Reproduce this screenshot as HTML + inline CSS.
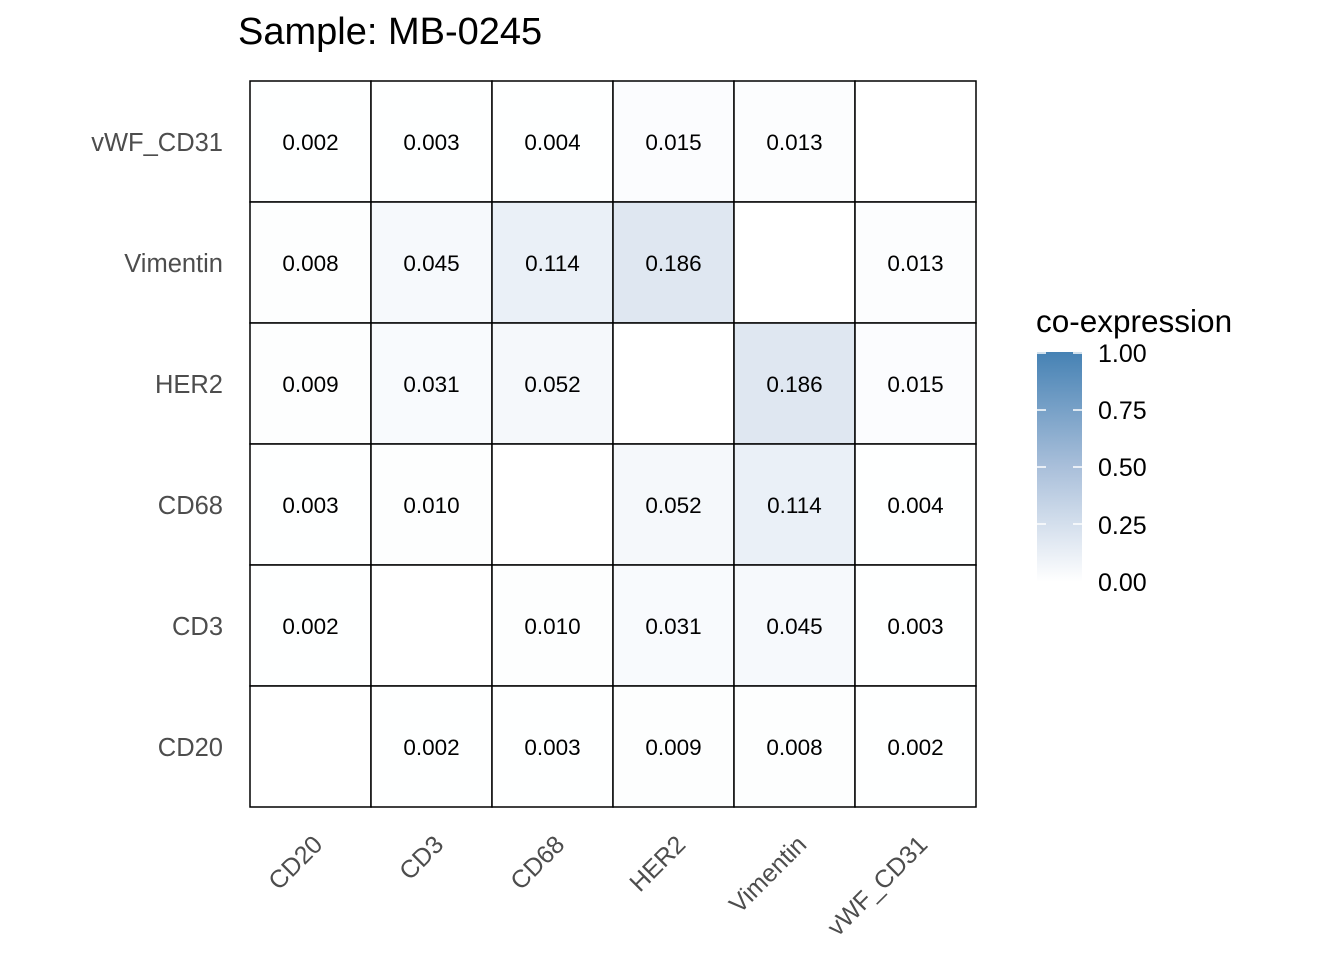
<!DOCTYPE html>
<html><head><style>body{margin:0;background:#fff}svg{display:block}</style></head><body>
<svg width="1344" height="960" xmlns="http://www.w3.org/2000/svg" font-family="Liberation Sans, sans-serif">
<defs><linearGradient id="g" x1="0" y1="1" x2="0" y2="0"><stop offset="0" stop-color="#ffffff"/><stop offset="0.5" stop-color="#a9bfda"/><stop offset="1" stop-color="#4682b4"/></linearGradient></defs>
<text x="238" y="44" font-size="38" fill="#000">Sample: MB-0245</text>
<g stroke="#000" stroke-width="1.5">
<rect x="250" y="81" width="121" height="121" fill="#feffff"/>
<rect x="371" y="81" width="121" height="121" fill="#feffff"/>
<rect x="492" y="81" width="121" height="121" fill="#feffff"/>
<rect x="613" y="81" width="121" height="121" fill="#fbfcfe"/>
<rect x="734" y="81" width="121" height="121" fill="#fcfdfe"/>
<rect x="855" y="81" width="121" height="121" fill="#ffffff"/>

<rect x="250" y="202" width="121" height="121" fill="#fdfefe"/>
<rect x="371" y="202" width="121" height="121" fill="#f6f9fc"/>
<rect x="492" y="202" width="121" height="121" fill="#eaf0f7"/>
<rect x="613" y="202" width="121" height="121" fill="#dfe7f1"/>
<rect x="734" y="202" width="121" height="121" fill="#ffffff"/>
<rect x="855" y="202" width="121" height="121" fill="#fcfdfe"/>

<rect x="250" y="323" width="121" height="121" fill="#fdfefe"/>
<rect x="371" y="323" width="121" height="121" fill="#f8fafd"/>
<rect x="492" y="323" width="121" height="121" fill="#f5f8fb"/>
<rect x="613" y="323" width="121" height="121" fill="#ffffff"/>
<rect x="734" y="323" width="121" height="121" fill="#dfe7f1"/>
<rect x="855" y="323" width="121" height="121" fill="#fbfcfe"/>

<rect x="250" y="444" width="121" height="121" fill="#feffff"/>
<rect x="371" y="444" width="121" height="121" fill="#fdfefe"/>
<rect x="492" y="444" width="121" height="121" fill="#ffffff"/>
<rect x="613" y="444" width="121" height="121" fill="#f5f8fb"/>
<rect x="734" y="444" width="121" height="121" fill="#eaf0f7"/>
<rect x="855" y="444" width="121" height="121" fill="#feffff"/>

<rect x="250" y="565" width="121" height="121" fill="#feffff"/>
<rect x="371" y="565" width="121" height="121" fill="#ffffff"/>
<rect x="492" y="565" width="121" height="121" fill="#fdfefe"/>
<rect x="613" y="565" width="121" height="121" fill="#f8fafd"/>
<rect x="734" y="565" width="121" height="121" fill="#f6f9fc"/>
<rect x="855" y="565" width="121" height="121" fill="#feffff"/>

<rect x="250" y="686" width="121" height="121" fill="#ffffff"/>
<rect x="371" y="686" width="121" height="121" fill="#feffff"/>
<rect x="492" y="686" width="121" height="121" fill="#feffff"/>
<rect x="613" y="686" width="121" height="121" fill="#fdfefe"/>
<rect x="734" y="686" width="121" height="121" fill="#fdfefe"/>
<rect x="855" y="686" width="121" height="121" fill="#feffff"/>
</g>
<g font-size="22.5" text-anchor="middle" fill="#000">
<text x="310.5" y="150">0.002</text><text x="431.5" y="150">0.003</text><text x="552.5" y="150">0.004</text><text x="673.5" y="150">0.015</text><text x="794.5" y="150">0.013</text>
<text x="310.5" y="271">0.008</text><text x="431.5" y="271">0.045</text><text x="552.5" y="271">0.114</text><text x="673.5" y="271">0.186</text><text x="915.5" y="271">0.013</text>
<text x="310.5" y="392">0.009</text><text x="431.5" y="392">0.031</text><text x="552.5" y="392">0.052</text><text x="794.5" y="392">0.186</text><text x="915.5" y="392">0.015</text>
<text x="310.5" y="513">0.003</text><text x="431.5" y="513">0.010</text><text x="673.5" y="513">0.052</text><text x="794.5" y="513">0.114</text><text x="915.5" y="513">0.004</text>
<text x="310.5" y="634">0.002</text><text x="552.5" y="634">0.010</text><text x="673.5" y="634">0.031</text><text x="794.5" y="634">0.045</text><text x="915.5" y="634">0.003</text>
<text x="431.5" y="755">0.002</text><text x="552.5" y="755">0.003</text><text x="673.5" y="755">0.009</text><text x="794.5" y="755">0.008</text><text x="915.5" y="755">0.002</text>
</g>
<g font-size="25.5" fill="#4d4d4d" text-anchor="end">
<text x="223" y="151">vWF_CD31</text><text x="223" y="272">Vimentin</text><text x="223" y="393">HER2</text><text x="223" y="514">CD68</text><text x="223" y="635">CD3</text><text x="223" y="756">CD20</text>
</g>
<g font-size="25" fill="#4d4d4d" text-anchor="end">
<text transform="translate(324,846) rotate(-45)">CD20</text>
<text transform="translate(445,846) rotate(-45)">CD3</text>
<text transform="translate(566,846) rotate(-45)">CD68</text>
<text transform="translate(687,846) rotate(-45)">HER2</text>
<text transform="translate(808,846) rotate(-45)">Vimentin</text>
<text transform="translate(929,846) rotate(-45)">vWF_CD31</text>
</g>
<text x="1036" y="332" font-size="31.5" fill="#000">co-expression</text>
<rect x="1037" y="352" width="45" height="230" fill="url(#g)"/>
<g stroke="#fff" stroke-width="1.5">
<line x1="1037" x2="1046" y1="353" y2="353"/><line x1="1073" x2="1082" y1="353" y2="353"/>
<line x1="1037" x2="1046" y1="410" y2="410"/><line x1="1073" x2="1082" y1="410" y2="410"/>
<line x1="1037" x2="1046" y1="467" y2="467"/><line x1="1073" x2="1082" y1="467" y2="467"/>
<line x1="1037" x2="1046" y1="524" y2="524"/><line x1="1073" x2="1082" y1="524" y2="524"/>
</g>
<g font-size="25" fill="#000">
<text x="1098" y="362">1.00</text><text x="1098" y="419">0.75</text><text x="1098" y="476">0.50</text><text x="1098" y="534">0.25</text><text x="1098" y="591">0.00</text>
</g>
</svg>
</body></html>
